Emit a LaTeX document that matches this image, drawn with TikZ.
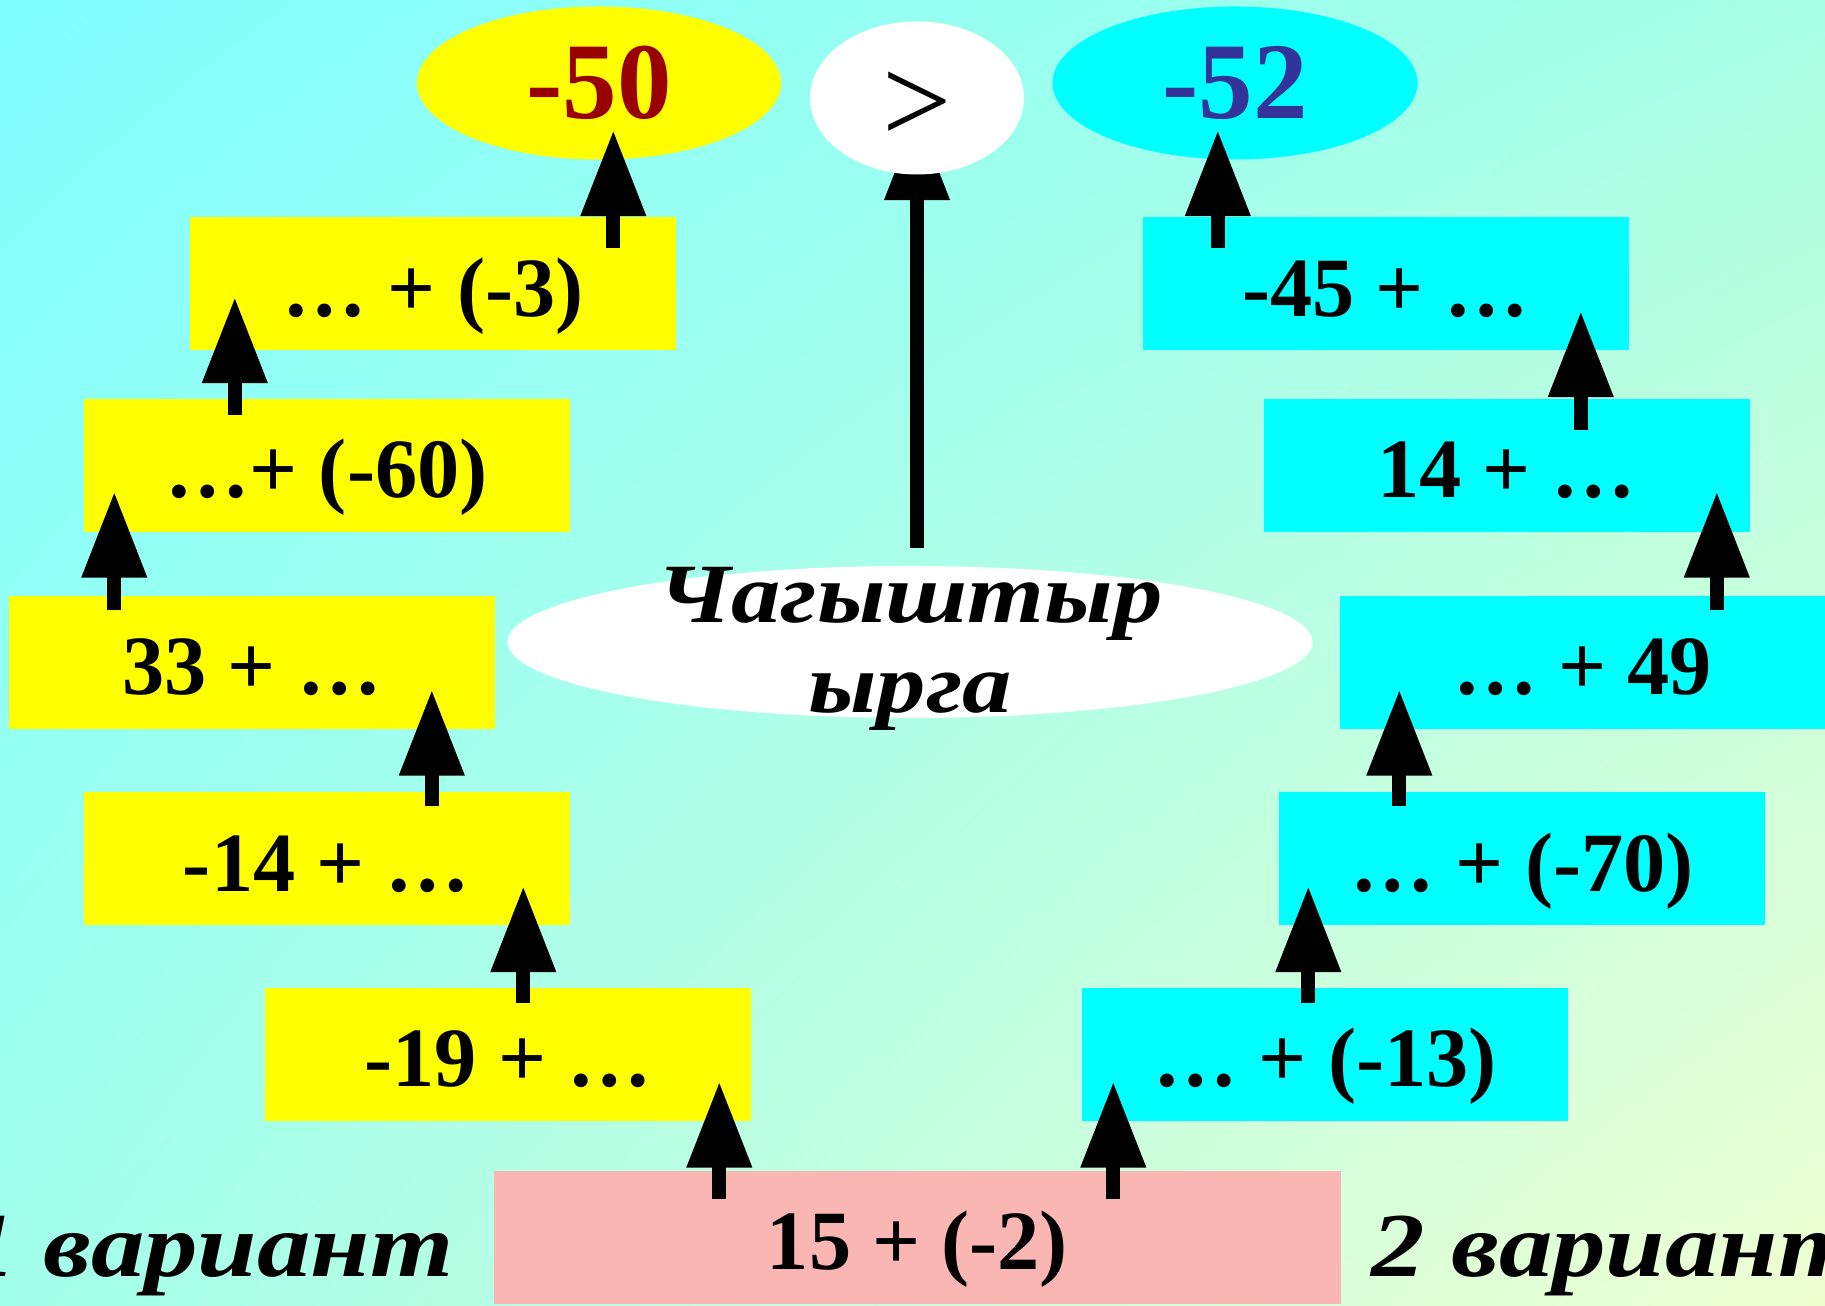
\documentclass[tikz,border=0pt]{standalone}
\usepackage{fontspec}
\setmainfont{Liberation Serif}
\newfontfamily\widefont[FakeStretch=1.17]{Liberation Serif}
\usetikzlibrary{shapes.geometric,arrows.meta,calc,shadings}
\pgfdeclarelayer{bg}
\pgfsetlayers{bg,main}
\definecolor{bgTL}{RGB}{128,255,255}
\definecolor{bgTR}{RGB}{168,255,228}
\definecolor{bgBL}{RGB}{162,255,234}
\definecolor{bgBR}{RGB}{240,255,210}
\definecolor{yellowbox}{RGB}{255,255,0}
\definecolor{cyanbox}{RGB}{0,255,255}
\definecolor{pinkbox}{RGB}{250,182,178}
\definecolor{redsum}{RGB}{153,0,0}
\definecolor{bluesum}{RGB}{51,51,153}
\newcommand{\climb}[5]{\draw[uparrow] ($(#1.north west)+(#2,-#3)$) coordinate (foot) -- ($(foot |- #4.south)+(0,#5)$);}

\begin{document}
\begin{tikzpicture}[
  cell/.style={rectangle, inner sep=0pt, minimum width=4.86cm, minimum height=1.33cm,
    text height=0.75cm, text depth=0.1cm, font=\fontsize{24}{28}\selectfont\bfseries},
  var1/.style={cell, fill=yellowbox},
  var2/.style={cell, fill=cyanbox},
  oval/.style={ellipse, inner sep=0pt, minimum height=1.53cm},
  sum/.style={font=\fontsize{31}{36}\selectfont\bfseries},
  label/.style={inner sep=0pt, font=\widefont\fontsize{26}{30}\selectfont\bfseries\itshape},
  uparrow/.style={line width=0.14cm, -{Triangle[width=0.62cm,length=0.86cm]}}]
  \useasboundingbox (0,0) rectangle (18.25,13.05);
  \clip (0,0) rectangle (18.25,13.05);

  % fond
  \begin{pgfonlayer}{bg}
    \shade[upper left=bgTL, upper right=bgTR, lower left=bgBL, lower right=bgBR]
      (0,0) rectangle (18.25,13.05);
  \end{pgfonlayer}

  % resultats compares
  \node[oval, sum, fill=yellowbox, minimum width=3.64cm, text=redsum] (m50) at (5.99,12.22) {-50};
  \node[oval, fill=white, minimum width=2.14cm] (gt) at (9.17,12.07) {};
  \node[font=\fontsize{35}{40}\selectfont] at ([yshift=-0.09cm]gt.center) {>};
  \node[oval, sum, fill=cyanbox, minimum width=3.65cm, text=bluesum] (m52) at (12.35,12.22) {-52};

  % 1 вариант
  \node[var1] (L1) at (4.33,10.21) {… + (-3)};
  \node[var1] (L2) at (3.265,8.395) {…+ (-60)};
  \node[var1] (L3) at (2.52,6.425) {33 + …};
  \node[var1] (L4) at (3.265,4.46) {-14 + …};
  \node[var1] (L5) at (5.08,2.505) {-19 + …};

  % 2 вариант
  \node[var2] (R1) at (13.855,10.21) {-45 + …};
  \node[var2] (R2) at (15.065,8.395) {14 + …};
  \node[var2] (R3) at (15.825,6.425) {… + 49};
  \node[var2] (R4) at (15.22,4.46) {… + (-70)};
  \node[var2] (R5) at (13.25,2.505) {… + (-13)};

  \node[cell, fill=pinkbox, minimum width=8.47cm] (P) at (9.175,0.675) {15 + (-2)};

  % ellipse centrale
  \node[oval, fill=white, minimum width=8.05cm, minimum height=1.52cm] (cmp) at (9.10,6.63) {};
  \node[align=center, font=\widefont\fontsize{24}{25.6}\selectfont\bfseries\itshape]
    at ([yshift=-0.07cm]cmp.center) {Чагыштыр\\ырга};

  \node[label, anchor=base east] (v1) at (4.54,0.29) {1 вариант};
  \node[label, anchor=base west] (v2) at (13.71,0.29) {2 вариант};

  % fleches
  \climb{L2}{1.52}{0.17}{L1}{0.54}
  \climb{L3}{1.06}{0.15}{L2}{0.41}
  \climb{L4}{3.49}{0.14}{L3}{0.40}
  \climb{L5}{2.59}{0.16}{L4}{0.40}
  \climb{P}{2.26}{0.29}{L5}{0.40}
  \climb{L1}{4.24}{0.31}{m50}{0.30}
  \climb{P}{6.20}{0.29}{R5}{0.40}
  \climb{R5}{2.27}{0.16}{R4}{0.40}
  \climb{R4}{1.21}{0.14}{R3}{0.40}
  \climb{R3}{3.78}{0.15}{R2}{0.41}
  \climb{R2}{3.18}{0.32}{R1}{0.40}
  \climb{R1}{0.76}{0.31}{m52}{0.30}
  \begin{pgfonlayer}{bg}
    \draw[uparrow] ($(gt.south |- cmp.north)+(0,0.17)$) -- ($(gt.south)+(0,0.61)$);
  \end{pgfonlayer}
\end{tikzpicture}
\end{document}
